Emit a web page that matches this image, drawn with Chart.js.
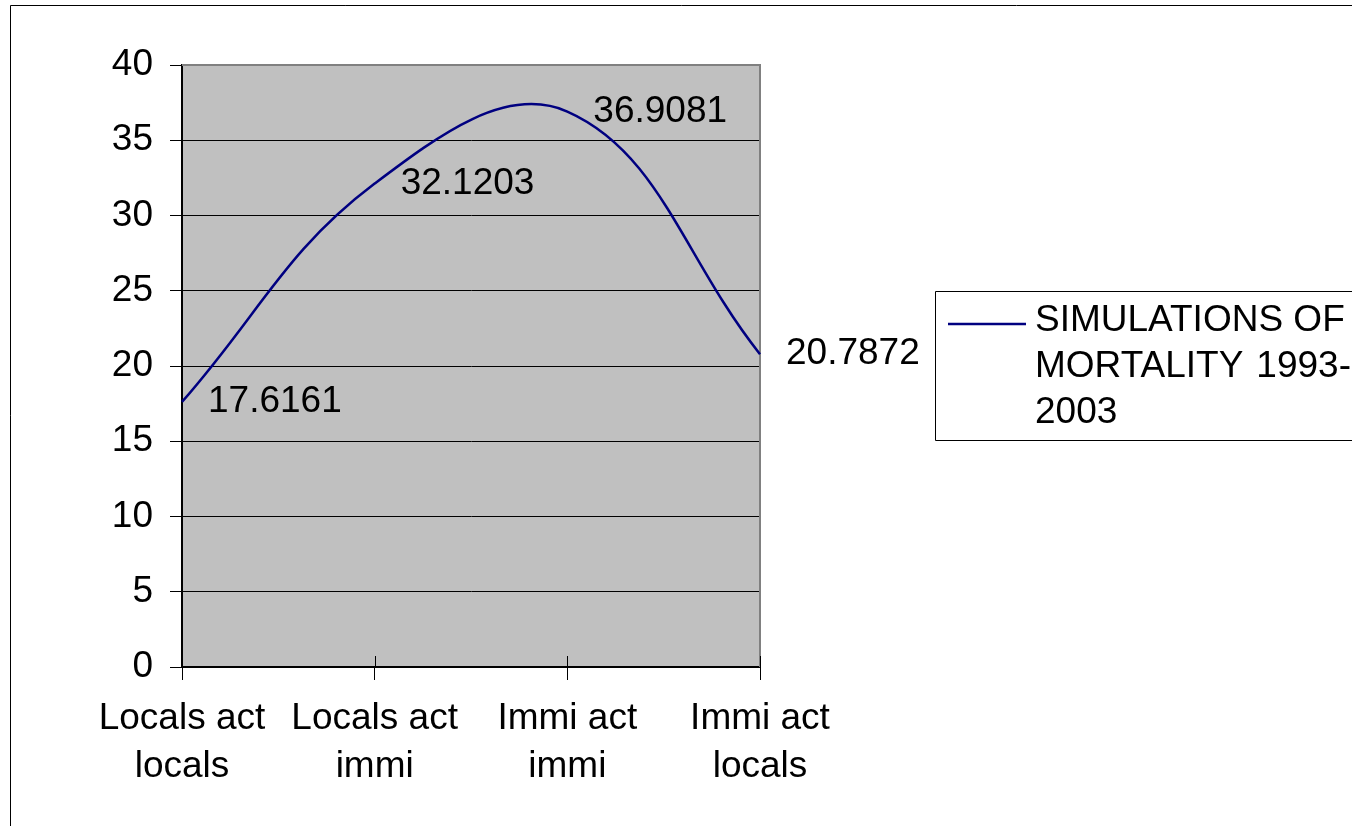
<!DOCTYPE html>
<html>
<head>
<meta charset="utf-8">
<script src="https://cdn.jsdelivr.net/npm/chart.js@4/dist/chart.umd.min.js"></script>
<style>
  html, body { margin: 0; padding: 0; background: #fff; }
  #wrap { position: relative; width: 1352px; height: 826px; overflow: hidden; }
  canvas { display: block; }
</style>
</head>
<body>
<div id="wrap"><canvas id="c" width="1352" height="826"></canvas></div>
<script>
const categories = [["Locals act", "locals"], ["Locals act", "immi"], ["Immi act", "immi"], ["Immi act", "locals"]];
const mortality = [17.6161, 32.1203, 36.9081, 20.7872];
const seriesName = "SIMULATIONS OF MORTALITY 1993-2003";
const legendLines = ["SIMULATIONS OF", ["MORTALITY", "1993-"], "2003"];
const yMin = 0, yMax = 40, yStep = 5;

const FONT = "'Liberation Sans', Arial, sans-serif";
const FS = 37;

const decor = {
  id: 'decor',
  beforeDraw(chart) {
    const { ctx, chartArea: a } = chart;
    ctx.save();
    ctx.fillStyle = '#C0C0C0';
    ctx.fillRect(a.left, a.top, a.right - a.left, a.bottom - a.top);
    ctx.restore();
  },
  beforeDatasetsDraw(chart) {
    const { ctx, chartArea: a } = chart;
    ctx.save();
    ctx.strokeStyle = '#808080';
    ctx.lineWidth = 2;
    ctx.beginPath();
    ctx.moveTo(a.left, a.top);
    ctx.lineTo(a.right, a.top);
    ctx.lineTo(a.right, a.bottom);
    ctx.stroke();
    const xs = chart.scales.x;
    ctx.strokeStyle = '#000';
    ctx.lineWidth = 1;
    for (let i = 1; i < categories.length; i++) {
      const px = Math.round(xs.getPixelForValue(i)) + 0.5;
      ctx.beginPath();
      ctx.moveTo(px, a.bottom - 11);
      ctx.lineTo(px, a.bottom);
      ctx.stroke();
    }
    ctx.restore();
  },
  afterDraw(chart) {
    const { ctx } = chart;
    ctx.save();
    const meta = chart.getDatasetMeta(0);
    ctx.fillStyle = '#000';
    ctx.font = FS + 'px ' + FONT;
    ctx.textAlign = 'left';
    ctx.textBaseline = 'middle';
    meta.data.forEach((el, i) => {
      ctx.fillText(String(mortality[i]), el.x + 26, el.y);
    });
    ctx.strokeStyle = '#000';
    ctx.lineWidth = 1;
    ctx.beginPath();
    ctx.moveTo(10.5, 826);
    ctx.lineTo(10.5, 5.5);
    ctx.lineTo(1352, 5.5);
    ctx.stroke();
    const lx = 935.5, ly = 291.5, lh = 149;
    ctx.beginPath();
    ctx.moveTo(1360, ly);
    ctx.lineTo(lx, ly);
    ctx.lineTo(lx, ly + lh);
    ctx.lineTo(1360, ly + lh);
    ctx.stroke();
    ctx.strokeStyle = '#000080';
    ctx.lineWidth = 2.5;
    ctx.beginPath();
    ctx.moveTo(948, 324);
    ctx.lineTo(1026, 324);
    ctx.stroke();
    ctx.fillStyle = '#000';
    ctx.textBaseline = 'middle';
    const ys = [321, 367, 413];
    legendLines.forEach((ln, i) => {
      if (Array.isArray(ln)) {
        ctx.textAlign = 'left';
        ctx.fillText(ln[0], 1035, ys[i]);
        ctx.textAlign = 'right';
        ctx.fillText(ln[1], 1351, ys[i]);
      } else {
        ctx.textAlign = 'left';
        ctx.fillText(ln, 1035, ys[i]);
      }
    });
    ctx.restore();
  }
};

new Chart(document.getElementById('c'), {
  type: 'line',
  data: {
    labels: categories,
    datasets: [{
      label: seriesName,
      data: mortality,
      borderColor: '#000080',
      backgroundColor: '#000080',
      borderWidth: 2.5,
      pointRadius: 0,
      tension: 0.4,
      fill: false
    }]
  },
  options: {
    responsive: false,
    animation: false,
    devicePixelRatio: 1,
    layout: { padding: { top: 65, right: 592, left: 0, bottom: 0 } },
    plugins: { legend: { display: false }, tooltip: { enabled: false } },
    scales: {
      x: {
        type: 'category',
        offset: false,
        grid: { display: true, drawOnChartArea: false, drawTicks: true, tickLength: 13, color: '#000', lineWidth: 1 },
        border: { display: true, color: '#000', width: 2 },
        ticks: { color: '#000', font: { family: FONT, size: FS, lineHeight: 1.3 }, padding: 15, maxRotation: 0, autoSkip: false },
        afterFit: s => { s.height = 159; }
      },
      y: {
        min: yMin, max: yMax,
        grid: { color: '#000', lineWidth: 1, tickLength: 12 },
        border: { display: true, color: '#000', width: 2 },
        ticks: { stepSize: yStep, color: '#000', font: { family: FONT, size: FS }, padding: 17 },
        afterFit: s => { s.width = 182; }
      }
    }
  },
  plugins: [decor]
});
</script>
</body>
</html>
